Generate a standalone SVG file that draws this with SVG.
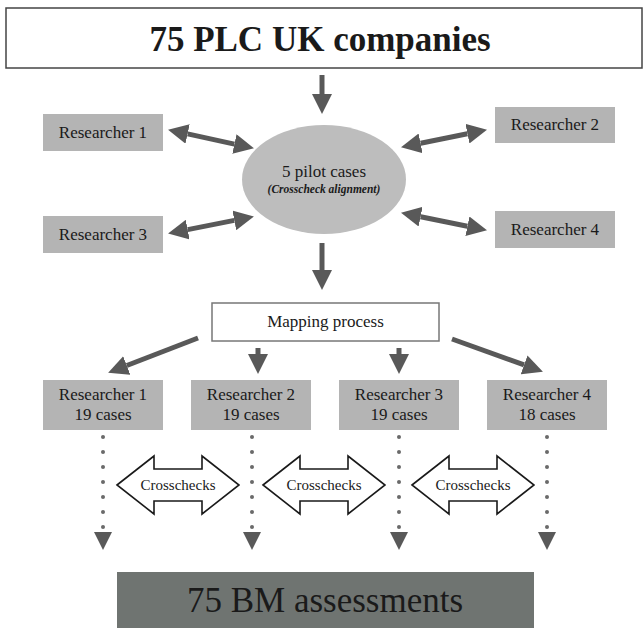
<svg xmlns="http://www.w3.org/2000/svg" width="644" height="628" viewBox="0 0 644 628">
<style>
.t{font-family:"Liberation Serif","Times New Roman",serif;fill:#1a1a1a;text-anchor:middle}
.gb{fill:#b4b4b4}
.ar{stroke:#595959;stroke-width:5;fill:none;marker-end:url(#h)}
.dar{stroke:#595959;stroke-width:5;fill:none;marker-start:url(#h);marker-end:url(#h)}
.dot{fill:#6a6a6a}
.tri{fill:#595959}
.bx{fill:#fff;stroke:#1a1a1a;stroke-width:1.6}
</style>
<defs>
<marker id="h" markerUnits="userSpaceOnUse" markerWidth="20" markerHeight="20" viewBox="0 -9 18 18" refX="0" refY="0" orient="auto-start-reverse">
<path d="M0,-9 L18,0 L0,9 Z" fill="#595959"/>
</marker>
</defs>
<rect width="644" height="628" fill="#fff"/>

<g id="top">
<rect x="6" y="8" width="636" height="60" fill="#fff" stroke="#444" stroke-width="1.5"/>
<text class="t" x="320" y="51" font-size="35" font-weight="bold">75 PLC UK companies</text>
</g>

<g id="pilot">
<ellipse cx="324" cy="179.5" rx="82" ry="54.5" fill="#bdbdbd"/>
<text class="t" x="324" y="177" font-size="17">5 pilot cases</text>
<text class="t" x="324" y="193" font-size="11.5" font-style="italic" font-weight="bold" fill="#333">(Crosscheck alignment)</text>
</g>

<g id="r1a"><rect class="gb" x="43" y="114" width="120" height="37"/><text class="t" x="103" y="138" font-size="17">Researcher 1</text></g>
<g id="r3a"><rect class="gb" x="43" y="216" width="120" height="37"/><text class="t" x="103" y="240" font-size="17">Researcher 3</text></g>
<g id="r2a"><rect class="gb" x="495" y="107" width="120" height="36"/><text class="t" x="555" y="130" font-size="17">Researcher 2</text></g>
<g id="r4a"><rect class="gb" x="495" y="211" width="120" height="37"/><text class="t" x="555" y="235" font-size="17">Researcher 4</text></g>

<g id="mapping">
<rect x="212" y="303" width="227" height="38" fill="#fff" stroke="#777" stroke-width="1.5"/>
<text class="t" x="325.5" y="327" font-size="17">Mapping process</text>
</g>

<g id="r1b"><rect class="gb" x="43" y="380" width="120" height="50"/><text class="t" x="103" y="400" font-size="17">Researcher 1</text><text class="t" x="103" y="420" font-size="17">19 cases</text></g>
<g id="r2b"><rect class="gb" x="191" y="380" width="120" height="50"/><text class="t" x="251" y="400" font-size="17">Researcher 2</text><text class="t" x="251" y="420" font-size="17">19 cases</text></g>
<g id="r3b"><rect class="gb" x="339" y="380" width="120" height="50"/><text class="t" x="399" y="400" font-size="17">Researcher 3</text><text class="t" x="399" y="420" font-size="17">19 cases</text></g>
<g id="r4b"><rect class="gb" x="487" y="380" width="120" height="50"/><text class="t" x="547" y="400" font-size="17">Researcher 4</text><text class="t" x="547" y="420" font-size="17">18 cases</text></g>

<g id="cc1"><path class="bx" d="M117,485 L154,456 L154,469 L202,469 L202,456 L239,485 L202,514 L202,501 L154,501 L154,514 Z"/><text class="t" x="178" y="490" font-size="15" fill="#333">Crosschecks</text></g>
<g id="cc2"><path class="bx" d="M263,485 L300,456 L300,469 L348,469 L348,456 L385,485 L348,514 L348,501 L300,501 L300,514 Z"/><text class="t" x="324" y="490" font-size="15" fill="#333">Crosschecks</text></g>
<g id="cc3"><path class="bx" d="M412,485 L449,456 L449,469 L497,469 L497,456 L534,485 L497,514 L497,501 L449,501 L449,514 Z"/><text class="t" x="473" y="490" font-size="15" fill="#333">Crosschecks</text></g>

<g id="result">
<rect x="117" y="572" width="417" height="56" fill="#6f7471"/>
<text class="t" x="325" y="612" font-size="35" fill="#111">75 BM assessments</text>
</g>

<g id="connectors">
<line class="ar" x1="322" y1="75" x2="322" y2="94"/>
<line class="dar" x1="187.6" y1="133.9" x2="234.4" y2="144.1"/>
<line class="dar" x1="187.7" y1="229.6" x2="234.3" y2="220.4"/>
<line class="dar" x1="420.6" y1="143.3" x2="467.4" y2="133.7"/>
<line class="dar" x1="420.6" y1="216.7" x2="467.4" y2="226.3"/>
<line class="ar" x1="322" y1="243" x2="322" y2="270"/>
<line class="ar" x1="198" y1="338" x2="126.8" y2="365.5"/>
<line class="ar" x1="258" y1="348" x2="258" y2="354"/>
<line class="ar" x1="399" y1="348" x2="399" y2="354"/>
<line class="ar" x1="452" y1="339" x2="524.1" y2="364.9"/>
<g id="dots">
<g transform="translate(103,0)"><circle class="dot" cx="0" cy="437" r="2"/><circle class="dot" cx="0" cy="452" r="2"/><circle class="dot" cx="0" cy="467" r="2"/><circle class="dot" cx="0" cy="482" r="2"/><circle class="dot" cx="0" cy="497" r="2"/><circle class="dot" cx="0" cy="512" r="2"/><circle class="dot" cx="0" cy="527" r="2"/><path class="tri" d="M-9,532 L9,532 L0,550 Z"/></g>
<g transform="translate(252,0)"><circle class="dot" cx="0" cy="437" r="2"/><circle class="dot" cx="0" cy="452" r="2"/><circle class="dot" cx="0" cy="467" r="2"/><circle class="dot" cx="0" cy="482" r="2"/><circle class="dot" cx="0" cy="497" r="2"/><circle class="dot" cx="0" cy="512" r="2"/><circle class="dot" cx="0" cy="527" r="2"/><path class="tri" d="M-9,532 L9,532 L0,550 Z"/></g>
<g transform="translate(399,0)"><circle class="dot" cx="0" cy="437" r="2"/><circle class="dot" cx="0" cy="452" r="2"/><circle class="dot" cx="0" cy="467" r="2"/><circle class="dot" cx="0" cy="482" r="2"/><circle class="dot" cx="0" cy="497" r="2"/><circle class="dot" cx="0" cy="512" r="2"/><circle class="dot" cx="0" cy="527" r="2"/><path class="tri" d="M-9,532 L9,532 L0,550 Z"/></g>
<g transform="translate(547,0)"><circle class="dot" cx="0" cy="437" r="2"/><circle class="dot" cx="0" cy="452" r="2"/><circle class="dot" cx="0" cy="467" r="2"/><circle class="dot" cx="0" cy="482" r="2"/><circle class="dot" cx="0" cy="497" r="2"/><circle class="dot" cx="0" cy="512" r="2"/><circle class="dot" cx="0" cy="527" r="2"/><path class="tri" d="M-9,532 L9,532 L0,550 Z"/></g>
</g>
</g>
</svg>
